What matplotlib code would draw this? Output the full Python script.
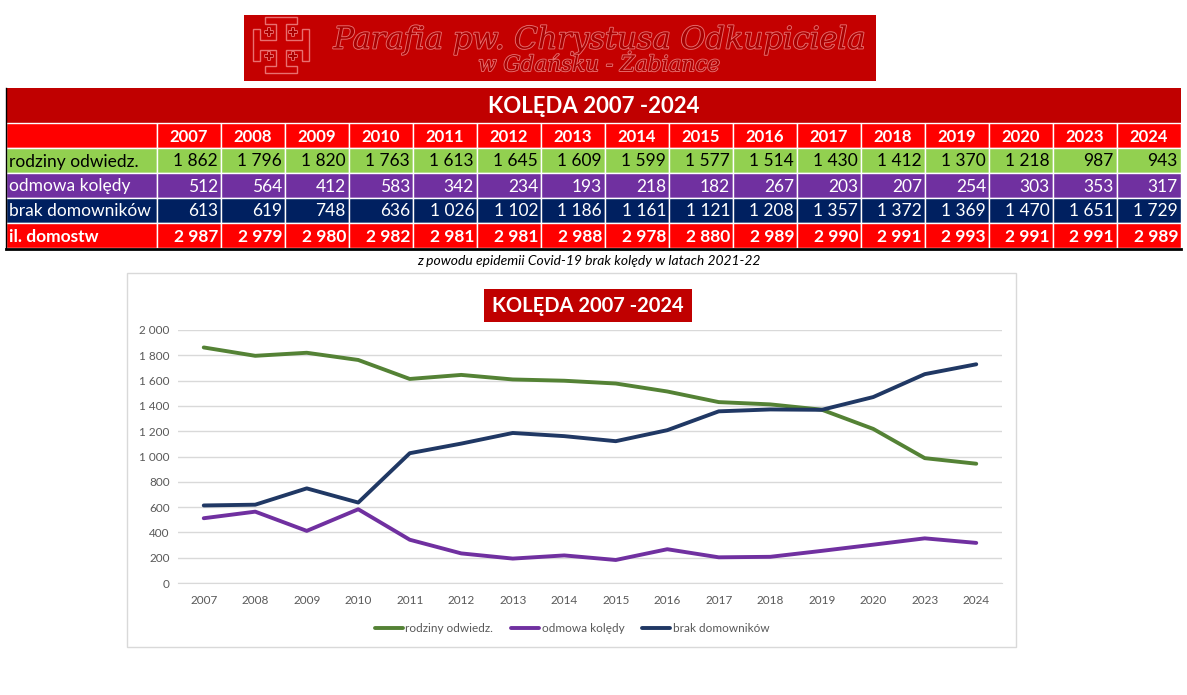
import matplotlib.pyplot as plt
from matplotlib.patches import Rectangle, Polygon
from matplotlib.ticker import FuncFormatter
import matplotlib.patheffects as pe

plt.rcParams['font.family'] = ['Lato', 'DejaVu Sans']

years = ['2007', '2008', '2009', '2010', '2011', '2012', '2013', '2014',
         '2015', '2016', '2017', '2018', '2019', '2020', '2023', '2024']
rodziny = [1862, 1796, 1820, 1763, 1613, 1645, 1609, 1599, 1577, 1514,
           1430, 1412, 1370, 1218, 987, 943]
odmowa = [512, 564, 412, 583, 342, 234, 193, 218, 182, 267,
          203, 207, 254, 303, 353, 317]
brak = [613, 619, 748, 636, 1026, 1102, 1186, 1161, 1121, 1208,
        1357, 1372, 1369, 1470, 1651, 1729]
domostw = [2987, 2979, 2980, 2982, 2981, 2981, 2988, 2978, 2880, 2989,
           2990, 2991, 2993, 2991, 2991, 2989]
row_labels = ['rodziny odwiedz.', 'odmowa kolędy', 'brak domowników', 'il. domostw']

title = 'KOLĘDA 2007 -2024'
note = 'z powodu epidemii Covid-19 brak kolędy w latach 2021-22'

W, H = 1187, 695


def fmt(v):
    return f'{v:,}'.replace(',', ' ')


fig = plt.figure(figsize=(W / 100, H / 100), dpi=100)
fig.patch.set_facecolor('white')

# background axes in pixel coordinates for banner and table
bg = fig.add_axes([0, 0, 1, 1])
bg.set_xlim(0, W)
bg.set_ylim(H, 0)
bg.axis('off')

# banner
bg.add_patch(Rectangle((244, 15), 632, 66, facecolor='#c40000', edgecolor='none'))
emboss = [pe.withStroke(linewidth=1.3, foreground='#e87070')]
bg.text(599, 40, 'Parafia pw. Chrystusa Odkupiciela', ha='center', va='center',
        fontsize=22, style='italic', family='DejaVu Serif', color='#a80000',
        path_effects=emboss)
bg.text(599, 65, 'w Gdańsku - Żabiance', ha='center', va='center',
        fontsize=15.5, style='italic', family='DejaVu Serif', color='#a80000',
        path_effects=emboss)

# cross potent emblem
cx, cy, a, L, b, t = 281, 45, 5, 28, 16, 7
cross = [(cx - b, cy - L), (cx + b, cy - L), (cx + b, cy - L + t), (cx + a, cy - L + t),
         (cx + a, cy - a), (cx + L - t, cy - a), (cx + L - t, cy - b), (cx + L, cy - b),
         (cx + L, cy + b), (cx + L - t, cy + b), (cx + L - t, cy + a), (cx + a, cy + a),
         (cx + a, cy + L - t), (cx + b, cy + L - t), (cx + b, cy + L), (cx - b, cy + L),
         (cx - b, cy + L - t), (cx - a, cy + L - t), (cx - a, cy + a), (cx - L + t, cy + a),
         (cx - L + t, cy + b), (cx - L, cy + b), (cx - L, cy - b), (cx - L + t, cy - b),
         (cx - L + t, cy - a), (cx - a, cy - a), (cx - a, cy - L + t), (cx - b, cy - L + t)]
bg.add_patch(Polygon(cross, closed=True, facecolor='#c80000', edgecolor='#e87070', lw=1))
for dx in (-12, 12):
    for dy in (-12, 12):
        bg.text(cx + dx, cy + dy, '✚', ha='center', va='center', fontsize=8,
                family='DejaVu Sans', color='#a80000', path_effects=emboss)

# table
x0, x1 = 6, 1181
lab_w = 151
col_w = (x1 - x0 - lab_w) / len(years)
y_title, h_title = 88, 35
y_head, h_row = 123, 25

bg.add_patch(Rectangle((x0, y_title), x1 - x0, h_title, facecolor='#c00000', edgecolor='none'))
bg.text((x0 + x1) / 2, y_title + h_title / 2 + 1, title, ha='center', va='center',
        fontsize=16, fontweight='bold', color='white')

rows = [
    (None, years, '#ff0000', 'white', 'bold'),
    (row_labels[0], [fmt(v) for v in rodziny], '#92d050', 'black', 'normal'),
    (row_labels[1], [fmt(v) for v in odmowa], '#7030a0', 'white', 'normal'),
    (row_labels[2], [fmt(v) for v in brak], '#002060', 'white', 'normal'),
    (row_labels[3], [fmt(v) for v in domostw], '#ff0000', 'white', 'bold'),
]
for r, (label, vals, fc, tc, fw) in enumerate(rows):
    y = y_head + r * h_row
    bg.add_patch(Rectangle((x0, y), lab_w, h_row, facecolor=fc, edgecolor='white', lw=1))
    if label:
        bg.text(x0 + 3, y + h_row / 2 + 1, label, ha='left', va='center',
                fontsize=12.5, color=tc, fontweight=fw)
    for c, v in enumerate(vals):
        cx = x0 + lab_w + c * col_w
        bg.add_patch(Rectangle((cx, y), col_w, h_row, facecolor=fc, edgecolor='white', lw=1))
        if r == 0:
            bg.text(cx + col_w / 2, y + h_row / 2 + 1, v, ha='center', va='center',
                    fontsize=12, color=tc, fontweight=fw)
        else:
            bg.text(cx + col_w - 3, y + h_row / 2 + 1, v, ha='right', va='center',
                    fontsize=12.5, color=tc, fontweight=fw)

y_end = y_head + len(rows) * h_row
bg.plot([x0, x1], [y_end + 1, y_end + 1], color='black', lw=2)
bg.plot([x0, x0], [y_title, y_end + 1], color='black', lw=1)

bg.text(589, 261, note, ha='center', va='center', fontsize=10, style='italic', color='black')

# chart frame
bg.add_patch(Rectangle((127, 273), 889, 374, facecolor='white', edgecolor='#d9d9d9', lw=1))

# chart title box
bg.add_patch(Rectangle((484, 289), 208, 33, facecolor='#c00000', edgecolor='none'))
bg.text(588, 306, title, ha='center', va='center', fontsize=14.5,
        fontweight='bold', color='white')

# line chart
left, right = 178, 1002
top, bottom = 330, 583
ax = fig.add_axes([left / W, 1 - bottom / H, (right - left) / W, (bottom - top) / H])
ax.set_facecolor('none')
xs = list(range(len(years)))
ax.plot(xs, rodziny, color='#548235', lw=2.8, label='rodziny odwiedz.', solid_capstyle='round')
ax.plot(xs, odmowa, color='#7030a0', lw=2.8, label='odmowa kolędy', solid_capstyle='round')
ax.plot(xs, brak, color='#203864', lw=2.8, label='brak domowników', solid_capstyle='round')

ax.set_xlim(-0.5, len(years) - 0.5)
ax.set_ylim(0, 2000)
ax.set_yticks(range(0, 2001, 200))
ax.yaxis.set_major_formatter(FuncFormatter(lambda v, p: fmt(int(v))))
ax.set_xticks(xs)
ax.set_xticklabels(years)
ax.grid(axis='y', color='#d9d9d9', lw=1)
ax.set_axisbelow(True)
for s in ['top', 'right', 'left']:
    ax.spines[s].set_visible(False)
ax.spines['bottom'].set_color('#d9d9d9')
ax.tick_params(axis='both', length=0, colors='#595959', labelsize=8.5)
ax.tick_params(axis='y', pad=6)
ax.tick_params(axis='x', pad=9)

leg = ax.legend(loc='center', bbox_to_anchor=(0.478, -0.18), ncol=3, frameon=False,
                fontsize=8.5, handlelength=2.4, handletextpad=0.2, columnspacing=1.5)
for t in leg.get_texts():
    t.set_color('#595959')

fig.savefig('out.png', dpi=100)
